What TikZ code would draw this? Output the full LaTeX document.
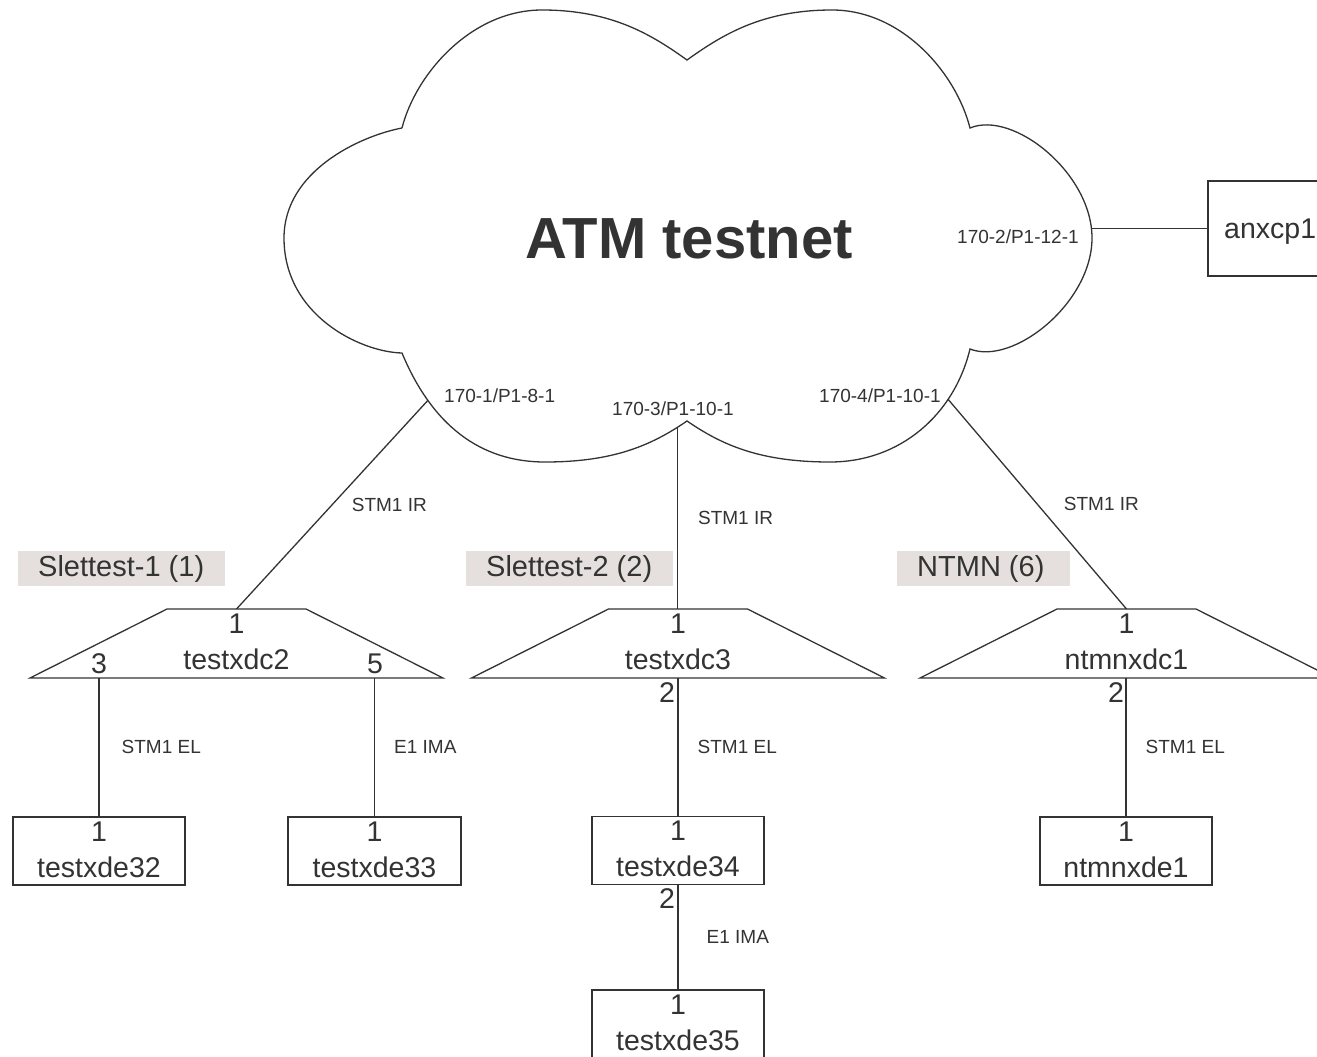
\documentclass[tikz,border=0pt]{standalone}
\usepackage{fontspec}
\setmainfont{Liberation Sans}
\usetikzlibrary{calc}
\definecolor{ink}{HTML}{333333}
\definecolor{tagfill}{HTML}{E5E0DD}
\tikzset{
  link/.style={draw=ink, line width=1.3},
  devbox/.style={draw=ink, line width=1.3, minimum width=172, minimum height=68, inner sep=0},
  portnum/.style={text=ink, font=\fontsize{28.5}{30}\selectfont, inner sep=0, anchor=base},
  linklbl/.style={text=ink, font=\fontsize{19}{20}\selectfont, inner sep=0, anchor=west, midway},
  iflbl/.style={text=ink, font=\fontsize{19}{20}\selectfont, inner sep=0, anchor=base west},
  tag/.style={fill=tagfill, anchor=west, inner sep=0, minimum height=35},
  tagtxt/.style={text=ink, font=\fontsize{29}{30}\selectfont, inner sep=0, anchor=west},
}
\begin{document}
\begin{tikzpicture}[x=1pt, y=-1pt]
\useasboundingbox (0,0) rectangle (1317,1057);
\fill[white] (0,0) rectangle (1317,1057);

% the cloud
\draw[link] (402,128) .. controls (416,73) and (472,10) .. (542,10)
  .. controls (612,10) and (652,35) .. (687,60)
  .. controls (722,35) and (762,10) .. (832,10)
  .. controls (902,10) and (956,73) .. (970,128)
  .. controls (1013,110) and (1092,173) .. (1092,238) coordinate[pos=0.95] (p2)
  .. controls (1092,303) and (1013,366) .. (970,349)
  .. controls (954,415) and (900,462) .. (830,462) coordinate[pos=0.28] (p4)
  .. controls (760,462) and (722,445) .. (687,421)
  .. controls (652,445) and (614,462) .. (545,462) coordinate[pos=0.09] (p3)
  .. controls (480,462) and (432,425) .. (402,353) coordinate[pos=0.75] (p1)
  .. controls (360,352) and (284,315) .. (284,238)
  .. controls (284,171) and (360,136) .. (402,128);
\node[text=ink, font=\fontsize{58}{60}\selectfont\bfseries, inner sep=0, anchor=base] (atm) at (689,258) {ATM testnet};

\node[iflbl] (if1) at (444,402) {170-1/P1-8-1};
\node[iflbl] (if3) at (612,415) {170-3/P1-10-1};
\node[iflbl] (if4) at (819,402) {170-4/P1-10-1};
\node[iflbl] (if2) at (957,243) {170-2/P1-12-1};

\node[devbox, minimum width=150, minimum height=95] (anx) at (1283,228.5) {};
\node[portnum, anchor=base west] at (1224,238) {anxcp1};

\foreach \x/\w/\nm/\lbl in {18/207/t1/Slettest-1 (1), 466/207/t2/Slettest-2 (2), 897/173/t3/NTMN (6)}
{
  \node[tag, minimum width=\w] (\nm) at (\x,568.5) {};
  \node[tagtxt] at ($(\nm.west)+(20,0)$) {\lbl};
}

\foreach \cx/\nm/\lbl in {236.5/dc2/testxdc2, 678/dc3/testxdc3, 1126.5/nd1/ntmnxdc1}
{
  \draw[link] (\cx-69.5,609) -- (\cx+69.5,609) -- (\cx+206.5,678) -- (\cx-206.5,678) -- cycle;
  \coordinate (\nm-top) at (\cx,609);
  \coordinate (\nm-bot) at (\cx,678);
  \node[portnum] at (\cx,633) {1};
  \node[portnum] at (\cx,669) {\lbl};
}
\node[portnum] at (99,673) {3};
\node[portnum] at (375,673) {5};
\node[portnum] at (667,702) {2};
\node[portnum] at (1116,702) {2};

\node[devbox] (e32) at (99,851) {};
\node[devbox, minimum width=173] (e33) at (374.5,851) {};
\node[devbox] (e34) at (678,850.5) {};
\node[devbox, minimum height=74] (e35) at (678,1027) {};
\node[devbox] (nde1) at (1126,851) {};
\foreach \b/\lbl in {e32/testxde32, e33/testxde33, e34/testxde34, e35/testxde35, nde1/ntmnxde1}
{
  \node[portnum] at ($(\b.north)+(0,25)$) {1};
  \node[portnum] at ($(\b.north)+(0,61)$) {\lbl};
}
\node[portnum] at (667,908) {2};

\draw[link] (p1) -- node[linklbl, xshift=19] {STM1 IR} (dc2-top);
\draw[link] (p3) -- node[linklbl, xshift=20] {STM1 IR} (p3 |- dc3-top);
\draw[link] (p4) -- node[linklbl, xshift=26] {STM1 IR} (nd1-top);
\draw[link] (p2) -- (p2 -| anx.west);
\draw[link] (dc2-bot -| e32.north) -- node[linklbl, xshift=22] {STM1 EL} (e32.north);
\draw[link] (dc2-bot -| e33.north) -- node[linklbl, xshift=19] {E1 IMA} (e33.north);
\draw[link] (dc3-bot) -- node[linklbl, xshift=19] {STM1 EL} (e34.north);
\draw[link] (e34.south) -- node[linklbl, xshift=28] {E1 IMA} (e35.north);
\draw[link] (nd1-bot -| nde1.north) -- node[linklbl, xshift=19] {STM1 EL} (nde1.north);
\end{tikzpicture}
\end{document}
